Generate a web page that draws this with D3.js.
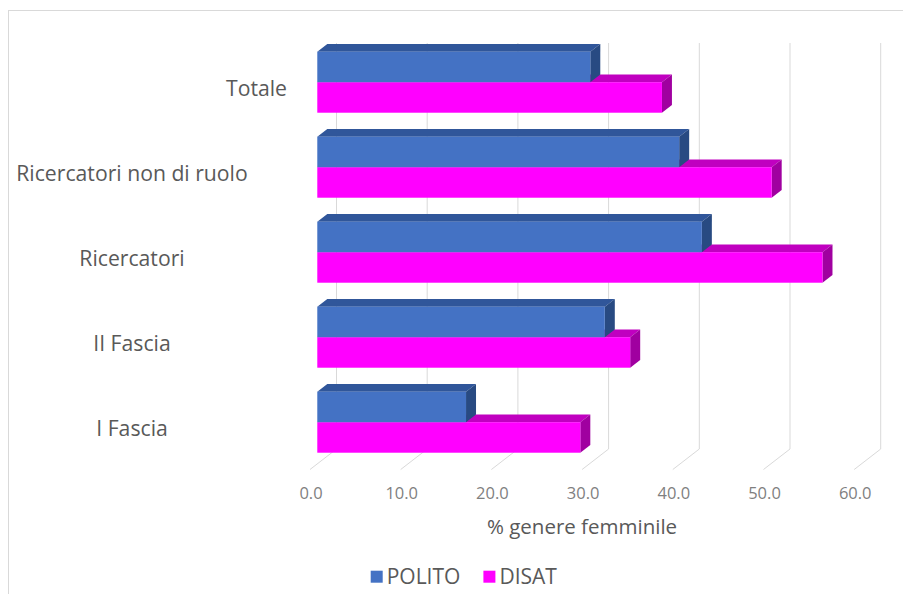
<!DOCTYPE html>
<html>
<head>
<meta charset="utf-8">
<script src="https://cdn.jsdelivr.net/npm/d3@7"></script>
<style>
  html, body { margin: 0; padding: 0; background: #fff; }
  svg { display: block; font-family: "Open Sans", "DejaVu Sans", sans-serif; }
</style>
</head>
<body>
<svg id="chart" width="903" height="594"></svg>
<script>
// Percentage of women by academic role
const categories = ["Totale", "Ricercatori non di ruolo", "Ricercatori", "II Fascia", "I Fascia"];
const series = ["POLITO", "DISAT"];
const politoValues = [30.1, 39.9, 42.4, 31.7, 16.4];
const disatValues = [38.0, 50.1, 55.7, 34.5, 29.0];
const tickValues = [0, 10, 20, 30, 40, 50, 60];
const axisTitle = "% genere femminile";

const svg = d3.select("#chart");

// colours: front face, top face, side face
const palette = {
  POLITO: { front: "#4472C4", top: "#30569a", side: "#284a82" },
  DISAT:  { front: "#FF00FF", top: "#c000c0", side: "#a000a0" }
};

// oblique 3D projection: depth offset of the whole floor
const DX = 26.5, DY = -20.5;
const barDepthStart = 0.275, barDepth = 0.377;

// value scale along the front edge of the floor
const x = d3.scaleLinear().domain([0, 60]).range([310, 854.2]);
const y = d3.scaleBand().domain(categories).range([39.7, 464.7])
  .paddingInner(0.282).paddingOuter(0.141);
const ySub = d3.scaleBand().domain(series).range([0, y.bandwidth()]);

const floorFrontY = 469.5, wallTopY = 43;

// chart frame
svg.append("rect")
  .attr("x", 8.5).attr("y", 10.5).attr("width", 1000).attr("height", 1000)
  .attr("fill", "#fff").attr("stroke", "#d9d9d9").attr("stroke-width", 1);

// gridlines: vertical on the back wall, diagonal across the floor
const grid = svg.append("g").attr("stroke", "#d9d9d9").attr("stroke-width", 1).attr("fill", "none");
tickValues.forEach(v => {
  const xf = x(v), xb = xf + DX, yb = floorFrontY + DY;
  grid.append("path")
    .attr("d", `M${xb},${wallTopY}L${xb},${yb}L${xf},${floorFrontY}`);
});

// tick labels
svg.append("g").selectAll("text").data(tickValues).join("text")
  .attr("x", d => x(d) + 1)
  .attr("y", 499)
  .attr("text-anchor", "middle")
  .attr("font-size", 16.5)
  .attr("fill", "#7f7f7f")
  .text(d => d3.format(".1f")(d));

// axis title
svg.append("text")
  .attr("x", 582).attr("y", 534)
  .attr("text-anchor", "middle")
  .attr("font-size", 20.5)
  .attr("fill", "#595959")
  .text(axisTitle);

// 3D bars
const bx0 = barDepthStart * DX;             // front face shift
const bdx = barDepth * DX, bdy = barDepth * DY;
const barData = [];
categories.forEach((c, i) => {
  barData.push({ cat: c, s: "DISAT", v: disatValues[i] });
  barData.push({ cat: c, s: "POLITO", v: politoValues[i] });
});

const bars = svg.append("g");
barData.forEach(d => {
  const x0 = x(0) + bx0, x1 = x(d.v) + bx0;
  const y0 = y(d.cat) + ySub(d.s), y1 = y0 + ySub.bandwidth();
  const col = palette[d.s];
  const g = bars.append("g");
  // top face
  g.append("path")
    .attr("d", `M${x0},${y0}L${x0 + bdx},${y0 + bdy}L${x1 + bdx},${y0 + bdy}L${x1},${y0}Z`)
    .attr("fill", col.top);
  // side (end) face
  g.append("path")
    .attr("d", `M${x1},${y0}L${x1 + bdx},${y0 + bdy}L${x1 + bdx},${y1 + bdy}L${x1},${y1}Z`)
    .attr("fill", col.side);
  // front face
  g.append("rect")
    .attr("x", x0).attr("y", y0)
    .attr("width", x1 - x0).attr("height", y1 - y0)
    .attr("fill", col.front);
});

// category labels
const labelAnchor = { "Totale": { anchor: "end", x: 287 } };
svg.append("g").selectAll("text").data(categories).join("text")
  .attr("x", d => labelAnchor[d] ? labelAnchor[d].x : 132)
  .attr("y", d => y(d) + y.bandwidth() / 2 + 14)
  .attr("text-anchor", d => labelAnchor[d] ? labelAnchor[d].anchor : "middle")
  .attr("font-size", 21.2)
  .attr("fill", "#595959")
  .text(d => d);

// legend
const legend = svg.append("g");
let lx = 370.7;
series.forEach(s => {
  legend.append("rect")
    .attr("x", lx).attr("y", 570.7).attr("width", 12).attr("height", 12)
    .attr("fill", palette[s].front);
  const t = legend.append("text")
    .attr("x", lx + 16).attr("y", 583.5)
    .attr("font-size", 21)
    .attr("fill", "#595959")
    .text(s);
  lx = lx + 16 + t.node().getComputedTextLength() + 23;
});
</script>
</body>
</html>
